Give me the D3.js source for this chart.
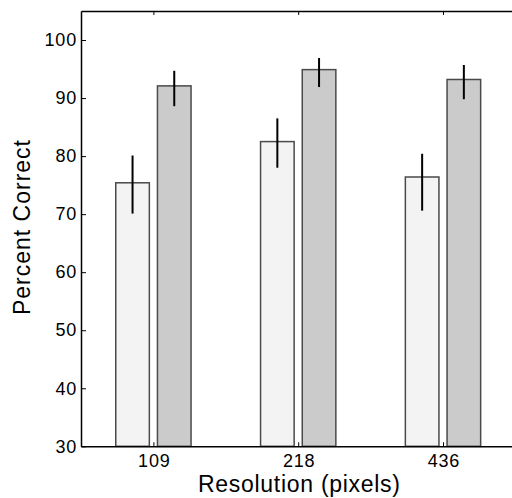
<!DOCTYPE html>
<html>
<head>
<meta charset="utf-8">
<title>Percent correct by resolution</title>
<style>
  body { margin: 0; background: #fff; }
  text { font-family: "Liberation Sans", Arial, Helvetica, sans-serif; fill: #000; }
  .bar { stroke: #4a4a4a; stroke-width: 1.5; }
</style>
<script src="https://cdn.jsdelivr.net/npm/d3@7"></script>
</head>
<body>
<script>
// data
var resolutions = ["109", "218", "436"];
var lightMean = [75.4, 82.5, 76.4];
var lightLo   = [70.1, 78.0, 70.6];
var lightHi   = [80.1, 86.5, 80.4];
var darkMean  = [92.1, 94.9, 93.2];
var darkLo    = [88.6, 91.9, 89.8];
var darkHi    = [94.7, 96.9, 95.7];
var yTicks = [30, 40, 50, 60, 70, 80, 90, 100];

var W = 512, H = 498;
var plotLeft = 81, plotTop = 11, plotBottom = 446.3;

var svg = d3.select("body").append("svg")
    .attr("width", W).attr("height", H);

// x in category units, right edge runs past the window
var x = d3.scaleLinear().domain([0.5, 3.5]).range([plotLeft, plotLeft + 3 * 144.8]);
var y = d3.scaleLinear().domain([30, 105]).range([plotBottom, plotTop]);

var barW = 0.232, off = 0.144;

var series = [
  { mean: lightMean, lo: lightLo, hi: lightHi, dx: -off, fill: "#f3f3f3" },
  { mean: darkMean,  lo: darkLo,  hi: darkHi,  dx:  off, fill: "#cbcbcb" }
];

series.forEach(function(s) {
  var g = svg.append("g");
  g.selectAll("rect").data(s.mean).enter().append("rect")
      .attr("class", "bar")
      .attr("x", function(d, i) { return x(i + 1 + s.dx - barW / 2); })
      .attr("width", x(barW) - x(0))
      .attr("y", function(d) { return y(d); })
      .attr("height", function(d) { return y(30) - y(d); })
      .attr("fill", s.fill);
  g.selectAll("line").data(s.mean).enter().append("line")
      .attr("x1", function(d, i) { return x(i + 1 + s.dx); })
      .attr("x2", function(d, i) { return x(i + 1 + s.dx); })
      .attr("y1", function(d, i) { return y(s.lo[i]); })
      .attr("y2", function(d, i) { return y(s.hi[i]); })
      .attr("stroke", "#000").attr("stroke-width", 2);
});

// axes: matlab style, ticks pointing in
var xAxis = d3.axisBottom(x).tickValues([1, 2, 3])
    .tickFormat(function(d) { return resolutions[d - 1]; })
    .tickSizeInner(-4).tickSizeOuter(0).tickPadding(8);
var gx = svg.append("g").attr("transform", "translate(0," + plotBottom + ")").call(xAxis);

var xTop = d3.axisTop(x).tickValues([1, 2, 3]).tickFormat("")
    .tickSizeInner(-4).tickSizeOuter(0);
var gt = svg.append("g").attr("transform", "translate(0," + plotTop + ")").call(xTop);

var yAxis = d3.axisLeft(y).tickValues(yTicks)
    .tickSizeInner(-5).tickSizeOuter(0).tickPadding(4);
var gy = svg.append("g").attr("transform", "translate(" + plotLeft + ",0)").call(yAxis);

[gx, gt, gy].forEach(function(g) {
  g.select(".domain").attr("stroke", "#000").attr("stroke-width", 1.5);
  g.selectAll(".tick line").attr("stroke", "#000").attr("stroke-width", 1);
  g.selectAll("text").attr("font-size", 18).attr("font-family", null)
      .attr("letter-spacing", 0.8);
});
gx.selectAll(".tick text").attr("dx", 0.4);

svg.append("text")
    .attr("x", 299).attr("y", 491.5)
    .attr("text-anchor", "middle").attr("font-size", 23)
    .attr("textLength", 202).attr("lengthAdjust", "spacing")
    .text("Resolution (pixels)");

svg.append("text")
    .attr("transform", "translate(30,227.5) rotate(-90)")
    .attr("text-anchor", "middle").attr("font-size", 23)
    .attr("textLength", 175).attr("lengthAdjust", "spacing")
    .text("Percent Correct");
</script>
</body>
</html>
